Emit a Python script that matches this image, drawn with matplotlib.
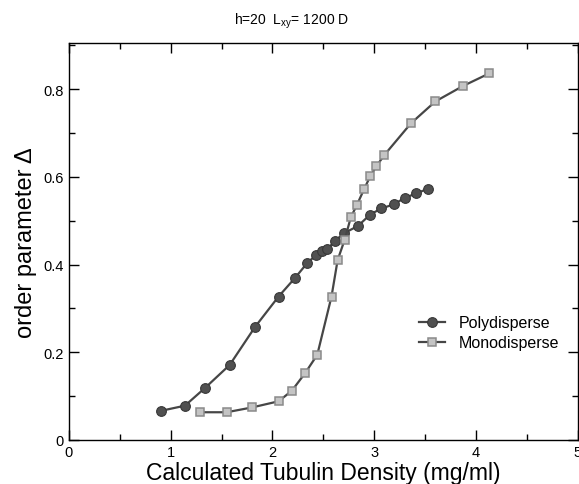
import matplotlib
matplotlib.use("Agg")
import matplotlib.pyplot as plt
from matplotlib.ticker import MultipleLocator, FixedLocator

plt.rcParams["font.family"] = ["Liberation Sans", "DejaVu Sans"]
plt.rcParams["mathtext.fontset"] = "custom"
plt.rcParams["mathtext.rm"] = "Liberation Sans"
plt.rcParams["mathtext.default"] = "regular"

# Polydisperse data (dark circles)
poly_x = [0.90, 1.14, 1.34, 1.58, 1.83, 2.06, 2.22, 2.34, 2.43, 2.49, 2.54,
          2.61, 2.70, 2.84, 2.96, 3.07, 3.19, 3.30, 3.41, 3.53]
poly_y = [0.066, 0.078, 0.119, 0.171, 0.258, 0.327, 0.369, 0.403, 0.422, 0.431,
          0.435, 0.453, 0.471, 0.488, 0.514, 0.528, 0.537, 0.552, 0.562, 0.573]

# Monodisperse data (light squares)
mono_x = [1.29, 1.55, 1.80, 2.06, 2.19, 2.32, 2.44, 2.58, 2.64, 2.71, 2.77,
          2.83, 2.90, 2.96, 3.02, 3.10, 3.36, 3.60, 3.87, 4.13]
mono_y = [0.063, 0.063, 0.074, 0.088, 0.112, 0.152, 0.194, 0.327, 0.410, 0.457,
          0.508, 0.536, 0.572, 0.601, 0.624, 0.650, 0.722, 0.772, 0.807, 0.836]

fig = plt.figure(figsize=(5.79, 4.85), dpi=100)
ax = fig.add_axes([0.119, 0.091, 0.879, 0.818])

ax.plot(poly_x, poly_y, "-o", color="#464646", lw=1.6, ms=7,
        mfc="#505050", mec="#383838", mew=0.8, label="Polydisperse")
ax.plot(mono_x, mono_y, "-s", color="#464646", lw=1.6, ms=5.5,
        mfc="#c4c4c4", mec="#8a8a8a", mew=1.1, label="Monodisperse")

ax.set_xlim(0, 5)
ax.set_ylim(0, 0.905)
ax.xaxis.set_major_locator(MultipleLocator(1))
ax.xaxis.set_minor_locator(MultipleLocator(0.5))
ax.yaxis.set_major_locator(FixedLocator([0, 0.2, 0.4, 0.6, 0.8]))
ax.yaxis.set_minor_locator(MultipleLocator(0.1))
ax.set_yticklabels(["0", "0.2", "0.4", "0.6", "0.8"])
ax.tick_params(which="both", direction="in", top=True, right=True,
               labelsize=10.5, width=1.0)
ax.tick_params(which="major", length=7, pad=4)
ax.tick_params(which="minor", length=4)
for s in ax.spines.values():
    s.set_linewidth(1.0)

ax.set_xlabel("Calculated Tubulin Density (mg/ml)", fontsize=16.5, labelpad=1)
ax.set_ylabel("order parameter \u0394", fontsize=17, labelpad=4)
fig.text(0.503, 0.955, "h=20  L$_{xy}$= 1200 D", ha="center", va="center",
         fontsize=10)

ax.legend(loc="upper left", bbox_to_anchor=(0.66, 0.35), frameon=False,
          fontsize=11.5, handlelength=1.6, handletextpad=0.9, labelspacing=0.3)

fig.savefig("out.png", dpi=100)
